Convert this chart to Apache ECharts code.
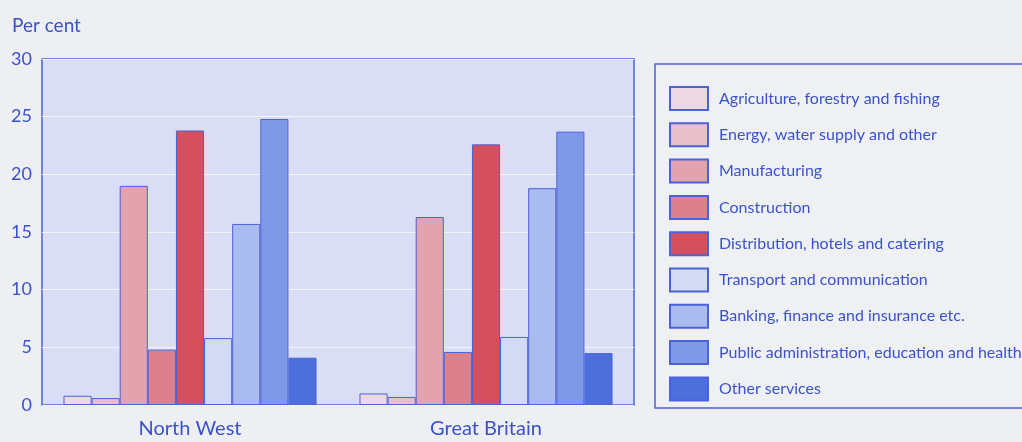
<!DOCTYPE html>
<html>
<head>
<meta charset="utf-8">
<script src="https://cdn.jsdelivr.net/npm/echarts@6/dist/echarts.min.js"></script>
<style>
  html, body { margin: 0; padding: 0; background: #eeeff3; }
  #chart { width: 1022px; height: 442px; }
</style>
</head>
<body>
<div id="chart"></div>
<script>
// Employment by industry, per cent of employees
const regions = ['North West', 'Great Britain'];
const industries = [
  'Agriculture, forestry and fishing',
  'Energy, water supply and other',
  'Manufacturing',
  'Construction',
  'Distribution, hotels and catering',
  'Transport and communication',
  'Banking, finance and insurance etc.',
  'Public administration, education and health',
  'Other services'
];
const northWest    = [0.8, 0.6, 19.0, 4.8, 23.8, 5.8, 15.7, 24.8, 4.1];
const greatBritain = [1.0, 0.7, 16.3, 4.6, 22.6, 5.9, 18.8, 23.7, 4.5];
const yTicks = [0, 5, 10, 15, 20, 25, 30];

const fills = ['#ecd8e0', '#e9bfca', '#e3a3ae', '#dc818b', '#d4505e',
               '#d3dbf4', '#aabbf0', '#8099e6', '#4d6fdc'];
const ink = '#3a52cc';
const edge = '#4a63d8';
const font = 'Lato, "Open Sans", sans-serif';

const chart = echarts.init(document.getElementById('chart'));

const series = industries.map((name, i) => ({
  name: name,
  type: 'bar',
  data: [northWest[i], greatBritain[i]],
  barGap: '0%',
  barCategoryGap: '14.5%',
  itemStyle: { color: fills[i], borderColor: edge, borderWidth: 1 },
  emphasis: { disabled: true }
}));

chart.setOption({
  animation: false,
  backgroundColor: '#eeeff3',
  textStyle: { fontFamily: font },
  title: {
    text: 'Per cent',
    left: 12, top: 16, padding: 0,
    textStyle: { color: ink, fontSize: 19, fontWeight: 'normal', fontFamily: font }
  },
  graphic: [{
    type: 'rect',
    shape: { x: 655, y: 64, width: 380, height: 344 },
    style: { fill: '#eff0f4', stroke: edge, lineWidth: 1.5 },
    z: -1
  }],
  grid: {
    left: 42, right: 388, top: 59, bottom: 37,
    show: true, backgroundColor: '#dadef5', borderColor: edge, borderWidth: 1.5
  },
  legend: {
    orient: 'vertical',
    left: 669, top: 86, padding: 0,
    itemWidth: 38, itemHeight: 23, itemGap: 11.3,
    icon: 'rect',
    textStyle: { color: ink, fontSize: 16, fontFamily: font, padding: [0, 0, 0, 6] },
    selectedMode: false
  },
  xAxis: {
    type: 'category',
    data: regions,
    axisLine: { show: false },
    axisTick: { show: false },
    axisLabel: { color: ink, fontSize: 20, margin: 14, fontFamily: font }
  },
  yAxis: {
    type: 'value',
    min: yTicks[0], max: yTicks[yTicks.length - 1], interval: 5,
    axisLine: { show: false },
    axisTick: { show: false },
    axisLabel: { color: ink, fontSize: 18, margin: 10, fontFamily: font },
    splitLine: { lineStyle: { color: '#f2f3fb', width: 1 } }
  },
  series: series
});
</script>
</body>
</html>
